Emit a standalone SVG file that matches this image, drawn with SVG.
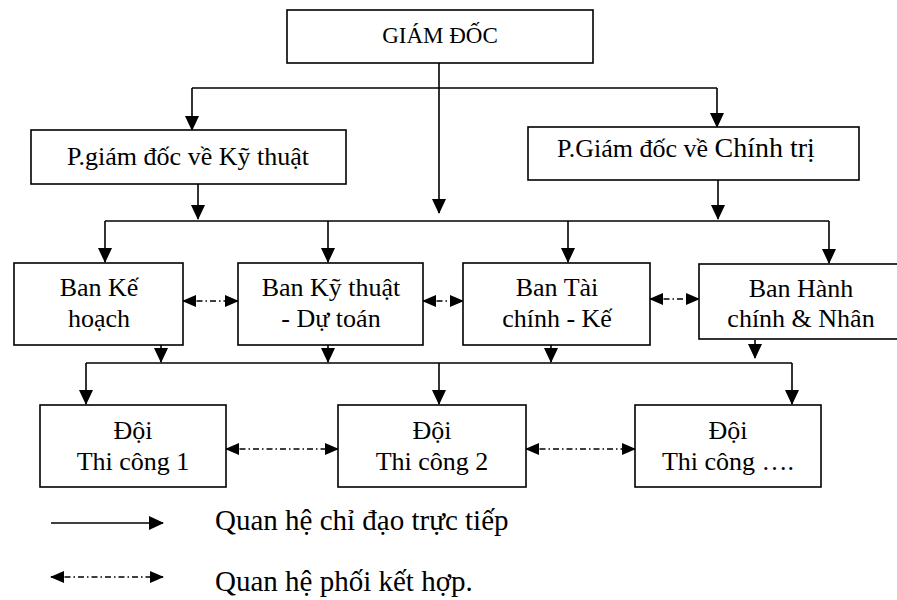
<svg xmlns="http://www.w3.org/2000/svg" width="897" height="600" viewBox="0 0 897 600">
<style>
  .box { fill: #ffffff; stroke: #000000; stroke-width: 1.6; }
  .t { font-family: "Liberation Serif", "Times New Roman", serif; font-size: 26px; fill: #000000; text-anchor: middle; }
  .lg { font-family: "Liberation Serif", "Times New Roman", serif; font-size: 29px; fill: #000000; }
  .ln { fill: none; stroke: #000000; stroke-width: 1.6; }
  .solid { fill: none; stroke: #000000; stroke-width: 1.6; marker-end: url(#arr); }
  .dot { fill: none; stroke: #000000; stroke-width: 1.4; stroke-dasharray: 6 3 1.5 3; marker-start: url(#darr); marker-end: url(#darr); }
</style>
<defs>
  <marker id="arr" viewBox="0 0 15 14" refX="14" refY="7" markerWidth="15" markerHeight="14" markerUnits="userSpaceOnUse" orient="auto">
    <path d="M0,0 L15,7 L0,14 Z" fill="#000000"/>
  </marker>
  <marker id="darr" viewBox="0 0 14 12" refX="13" refY="6" markerWidth="14" markerHeight="12" markerUnits="userSpaceOnUse" orient="auto-start-reverse">
    <path d="M0,0 L14,6 L0,12 Z" fill="#000000"/>
  </marker>
</defs>

<g id="connectors">
  <!-- from Giam doc -->
  <line class="solid" x1="439" y1="63" x2="439" y2="213"/>
  <polyline class="ln" points="192,88 717,88"/>
  <line class="solid" x1="192" y1="88" x2="192" y2="130"/>
  <line class="solid" x1="717" y1="88" x2="717" y2="127"/>
  <!-- from deputies -->
  <line class="solid" x1="198" y1="184" x2="198" y2="219"/>
  <line class="solid" x1="718" y1="180" x2="718" y2="219"/>
  <!-- bus 1 -->
  <polyline class="ln" points="105,221 829,221"/>
  <line class="solid" x1="105" y1="221" x2="105" y2="262"/>
  <line class="solid" x1="328" y1="221" x2="328" y2="262"/>
  <line class="solid" x1="568" y1="221" x2="568" y2="262"/>
  <line class="solid" x1="829" y1="221" x2="829" y2="263"/>
  <!-- row 2 coordination -->
  <line class="dot" x1="183" y1="301" x2="238" y2="301"/>
  <line class="dot" x1="423" y1="301" x2="463" y2="301"/>
  <line class="dot" x1="650" y1="299" x2="699" y2="299"/>
  <!-- row 2 to bus 2 -->
  <line class="solid" x1="161" y1="345" x2="161" y2="362"/>
  <line class="solid" x1="328" y1="345" x2="328" y2="362"/>
  <line class="solid" x1="551" y1="345" x2="551" y2="362"/>
  <line class="solid" x1="755" y1="340" x2="755" y2="358"/>
  <!-- bus 2 -->
  <polyline class="ln" points="86,363 792,363"/>
  <line class="solid" x1="86" y1="363" x2="86" y2="404"/>
  <line class="solid" x1="439" y1="363" x2="439" y2="404"/>
  <line class="solid" x1="792" y1="363" x2="792" y2="404"/>
  <!-- row 3 coordination -->
  <line class="dot" x1="226" y1="449" x2="338" y2="449"/>
  <line class="dot" x1="526" y1="449" x2="635" y2="449"/>
</g>

<g id="giam-doc">
  <rect class="box" x="287" y="10" width="306" height="53"/>
  <text class="t" x="440" y="43" style="font-size:23px">GIÁM ĐỐC</text>
</g>
<g id="pgd-ky-thuat">
  <rect class="box" x="31" y="130" width="315" height="54"/>
  <text class="t" x="188" y="165">P.giám đốc về Kỹ thuật</text>
</g>
<g id="pgd-chinh-tri">
  <rect class="box" x="528" y="127" width="331" height="53"/>
  <text class="t" x="686" y="157">P.Giám đốc về <tspan style="font-size:28px">Chính trị</tspan></text>
</g>

<g id="ban-ke-hoach">
  <rect class="box" x="14" y="263" width="169" height="82"/>
  <text class="t" x="99" y="296">Ban Kế</text>
  <text class="t" x="99" y="327">hoạch</text>
</g>
<g id="ban-ky-thuat">
  <rect class="box" x="238" y="263" width="185" height="82"/>
  <text class="t" x="331" y="296">Ban Kỹ thuật</text>
  <text class="t" x="331" y="327">- Dự toán</text>
</g>
<g id="ban-tai-chinh">
  <rect class="box" x="463" y="263" width="187" height="82"/>
  <text class="t" x="557" y="296">Ban Tài</text>
  <text class="t" x="557" y="327">chính - Kế</text>
</g>
<g id="ban-hanh-chinh">
  <rect class="box" x="699" y="264" width="210" height="75"/>
  <text class="t" x="801" y="297">Ban Hành</text>
  <text class="t" x="801" y="327">chính &amp; Nhân</text>
</g>

<g id="doi-1">
  <rect class="box" x="40" y="405" width="186" height="82"/>
  <text class="t" x="133" y="439">Đội</text>
  <text class="t" x="133" y="470">Thi công 1</text>
</g>
<g id="doi-2">
  <rect class="box" x="338" y="405" width="188" height="82"/>
  <text class="t" x="432" y="439">Đội</text>
  <text class="t" x="432" y="470">Thi công 2</text>
</g>
<g id="doi-3">
  <rect class="box" x="635" y="405" width="186" height="82"/>
  <text class="t" x="728" y="439">Đội</text>
  <text class="t" x="728" y="470">Thi công ….</text>
</g>

<g id="legend">
  <line class="solid" x1="51" y1="523" x2="163" y2="523"/>
  <text class="lg" x="215" y="530">Quan hệ chỉ đạo trực tiếp</text>
  <line class="dot" x1="51" y1="577" x2="163" y2="577"/>
  <text class="lg" x="215" y="591">Quan hệ phối kết hợp.</text>
</g>
</svg>
